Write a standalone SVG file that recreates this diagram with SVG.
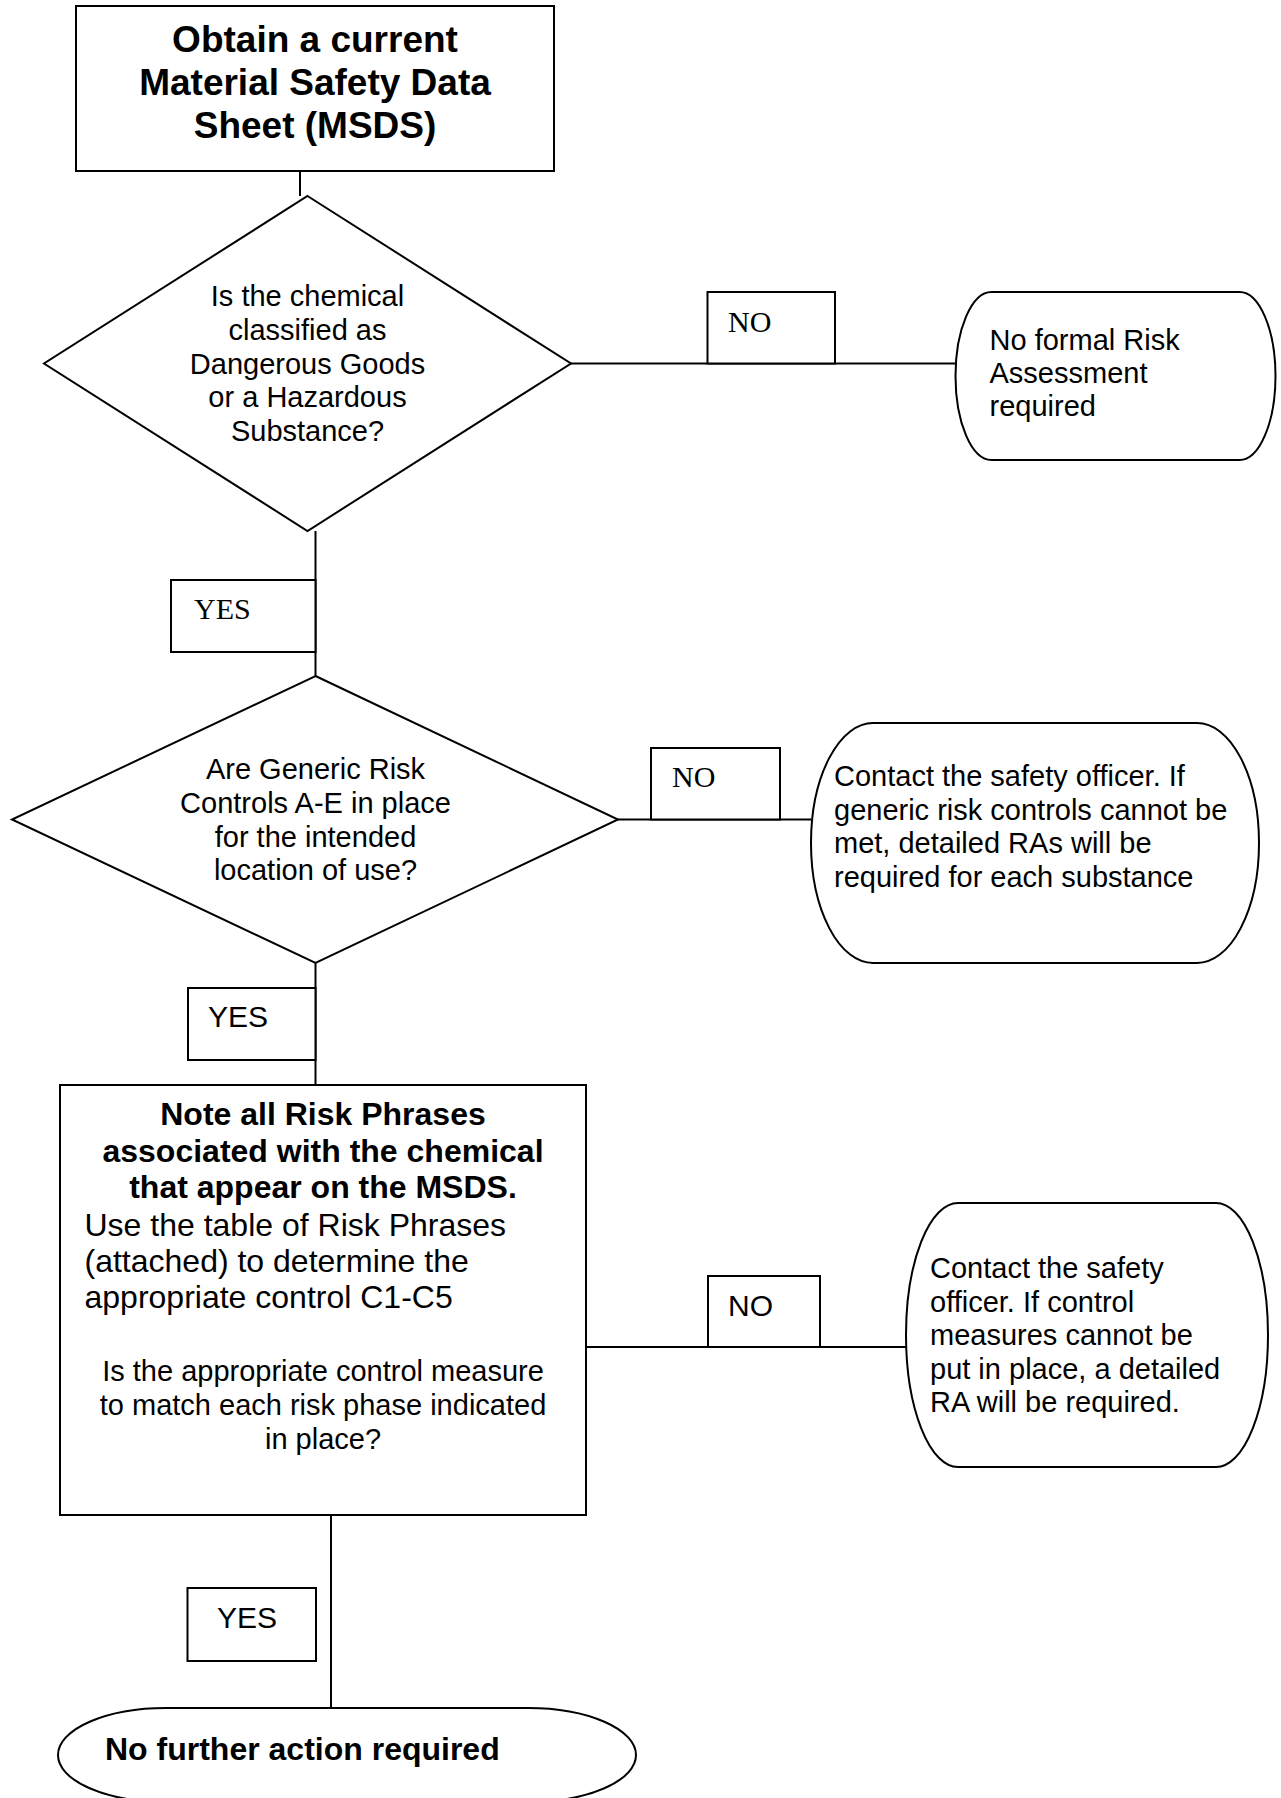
<svg xmlns="http://www.w3.org/2000/svg" width="1281" height="1798" viewBox="0 0 1281 1798">
<style>
.shape{fill:#fff;stroke:#000;stroke-width:2}
.conn{fill:none;stroke:#000;stroke-width:2}
.s{font-family:"Liberation Sans",Arial,sans-serif;fill:#000}
.t{font-family:"Liberation Serif","Times New Roman",serif;fill:#000}
.b{font-weight:bold}
.m{text-anchor:middle}
</style>
<rect width="1281" height="1798" fill="#fff"/>
<g id="connectors">
<line class="conn" x1="300" y1="171" x2="300" y2="196"/>
<line class="conn" x1="571" y1="363.5" x2="955" y2="363.5"/>
<line class="conn" x1="315.5" y1="531" x2="315.5" y2="676"/>
<line class="conn" x1="618" y1="819.5" x2="811" y2="819.5"/>
<line class="conn" x1="315.5" y1="963" x2="315.5" y2="1085"/>
<line class="conn" x1="586" y1="1347" x2="908" y2="1347"/>
<line class="conn" x1="331" y1="1515" x2="331" y2="1708"/>
</g>
<g id="start">
<rect class="shape" x="76" y="6" width="478" height="165"/>
<text class="s b m" font-size="37" x="315"><tspan x="315" y="52">Obtain a current</tspan><tspan x="315" y="95">Material Safety Data</tspan><tspan x="315" y="137.5">Sheet (MSDS)</tspan></text>
</g>
<g id="decision1">
<polygon class="shape" points="307.5,196 571,363.5 307.5,531 44,363.5"/>
<text class="s m" font-size="29"><tspan x="307.5" y="306">Is the chemical</tspan><tspan x="307.5" y="339.75">classified as</tspan><tspan x="307.5" y="373.5">Dangerous Goods</tspan><tspan x="307.5" y="407.25">or a Hazardous</tspan><tspan x="307.5" y="441">Substance?</tspan></text>
</g>
<g id="label-no1">
<rect class="shape" x="707.5" y="292" width="127.5" height="71.5"/>
<text class="t" font-size="30" x="728" y="332">NO</text>
</g>
<g id="end-no-ra">
<rect class="shape" x="955.5" y="292" width="320" height="168" rx="36" ry="84"/>
<text class="s" font-size="29"><tspan x="989.5" y="350">No formal Risk</tspan><tspan x="989.5" y="383">Assessment</tspan><tspan x="989.5" y="416">required</tspan></text>
</g>
<g id="label-yes1">
<rect class="shape" x="171" y="580" width="144.5" height="72"/>
<text class="t" font-size="30" x="194" y="619">YES</text>
</g>
<g id="decision2">
<polygon class="shape" points="315.5,676 618,819.5 315.5,963 12,819.5"/>
<text class="s m" font-size="29"><tspan x="315.5" y="779">Are Generic Risk</tspan><tspan x="315.5" y="813">Controls A-E in place</tspan><tspan x="315.5" y="847">for the intended</tspan><tspan x="315.5" y="880">location of use?</tspan></text>
</g>
<g id="label-no2">
<rect class="shape" x="651" y="748" width="129" height="71.5"/>
<text class="t" font-size="30" x="672" y="787">NO</text>
</g>
<g id="end-contact1">
<rect class="shape" x="811" y="723" width="448" height="240" rx="62" ry="120"/>
<text class="s" font-size="29"><tspan x="834" y="786">Contact the safety officer. If</tspan><tspan x="834" y="819.5">generic risk controls cannot be</tspan><tspan x="834" y="853">met, detailed RAs will be</tspan><tspan x="834" y="887">required for each substance</tspan></text>
</g>
<g id="label-yes2">
<rect class="shape" x="188" y="988" width="127.5" height="72"/>
<text class="s" font-size="30" x="208" y="1027">YES</text>
</g>
<g id="process-risk-phrases">
<rect class="shape" x="60" y="1085" width="526" height="430"/>
<text class="s b m" font-size="32"><tspan x="323" y="1125">Note all Risk Phrases</tspan><tspan x="323" y="1162">associated with the chemical</tspan><tspan x="323" y="1198">that appear on the MSDS.</tspan></text>
<text class="s" font-size="32"><tspan x="84.5" y="1236">Use the table of Risk Phrases</tspan><tspan x="84.5" y="1272">(attached) to determine the</tspan><tspan x="84.5" y="1308">appropriate control C1-C5</tspan></text>
<text class="s m" font-size="29"><tspan x="323" y="1381">Is the appropriate control measure</tspan><tspan x="323" y="1415">to match each risk phase indicated</tspan><tspan x="323" y="1449">in place?</tspan></text>
</g>
<g id="label-no3">
<rect class="shape" x="708" y="1276" width="112" height="71"/>
<text class="s" font-size="30" x="728" y="1316">NO</text>
</g>
<g id="end-contact2">
<rect class="shape" x="906" y="1203" width="362" height="264" rx="52" ry="132"/>
<text class="s" font-size="29"><tspan x="930" y="1278">Contact the safety</tspan><tspan x="930" y="1311.5">officer. If control</tspan><tspan x="930" y="1345">measures cannot be</tspan><tspan x="930" y="1378.5">put in place, a detailed</tspan><tspan x="930" y="1412">RA will be required.</tspan></text>
</g>
<g id="label-yes3">
<rect class="shape" x="187.5" y="1588" width="128.5" height="73"/>
<text class="s" font-size="30" x="217" y="1628">YES</text>
</g>
<g id="end-no-action">
<rect class="shape" x="58" y="1708" width="578" height="94" rx="108" ry="47"/>
<text class="s b" font-size="32" x="105" y="1760">No further action required</text>
</g>
</svg>
